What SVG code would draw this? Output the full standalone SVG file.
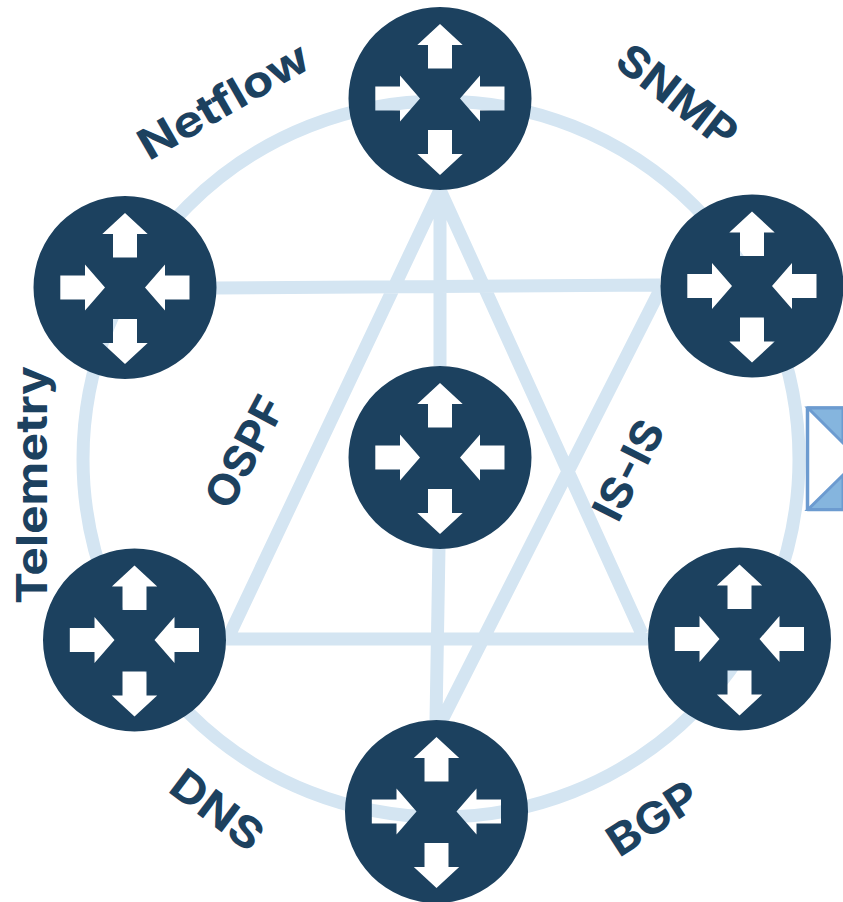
<svg xmlns="http://www.w3.org/2000/svg" width="843" height="902" viewBox="0 0 843 902">
<style>
.ln{fill:none;stroke:#d4e5f2;stroke-width:13}
.nd{fill:#1c415f;fill-rule:evenodd}
.lb{font-family:Inter,"Liberation Sans",sans-serif;font-weight:700;font-size:43px;fill:#1c415f;text-anchor:middle}
</style>
<defs>
<path id="router" d="M-91.5 0A91.5 91.5 0 1 0 91.5 0A91.5 91.5 0 1 0-91.5 0ZM0-74.500L22.700-53.500H12V-30H-12V-53.500H-22.700ZM0 76.500L22.700 55.500H12V31.500H-12V55.500H-22.700ZM-20 0L-40-23V-12H-64.700V12H-40V23ZM20 0L40-23V-12H64.500V12H40V23Z"/>
</defs>
<g id="connectors">
<circle class="ln" cx="441" cy="459" r="358"/>
<path class="ln" d="M216 288L660 285M226 639H648M440 190L440 366M439 548L436 720M440 190L228 638M440 190L642 634M662 286L441 722"/>
</g>
<g id="envelope">
<rect x="807.500" y="408" width="50" height="101.500" fill="#fff" stroke="#6c9bd0" stroke-width="3.500" stroke-linejoin="round"/>
<path d="M808 408H843V443ZM808 509.500H843V475Z" fill="#85b5de" stroke="#6c9bd0" stroke-width="3"/>
</g>
<g id="node-top"><use href="#router" class="nd" x="440" y="98.500"/></g>
<g id="node-top-right"><use href="#router" class="nd" x="752" y="286"/></g>
<g id="node-top-left"><use href="#router" class="nd" x="125" y="287.500"/></g>
<g id="node-center"><use href="#router" class="nd" x="440" y="457.500"/></g>
<g id="node-bottom-left"><use href="#router" class="nd" x="134.500" y="640"/></g>
<g id="node-bottom-right"><use href="#router" class="nd" x="739.500" y="639"/></g>
<g id="node-bottom"><use href="#router" class="nd" x="436.500" y="811.500"/></g>
<g id="labels">
<text class="lb" transform="translate(231 114) rotate(-30)" textLength="190" lengthAdjust="spacingAndGlyphs">Netflow</text>
<text class="lb" transform="translate(668 108) rotate(38)" textLength="140" lengthAdjust="spacingAndGlyphs">SNMP</text>
<text class="lb" transform="translate(47 485) rotate(-90)" textLength="238" lengthAdjust="spacingAndGlyphs">Telemetry</text>
<text class="lb" transform="translate(258 459) rotate(-62)" textLength="120" lengthAdjust="spacingAndGlyphs">OSPF</text>
<text class="lb" transform="translate(642 477) rotate(-63)" textLength="106" lengthAdjust="spacingAndGlyphs">IS-IS</text>
<text class="lb" transform="translate(208 822) rotate(37)" textLength="104" lengthAdjust="spacingAndGlyphs">DNS</text>
<text class="lb" transform="translate(661 831) rotate(-33)" textLength="100" lengthAdjust="spacingAndGlyphs">BGP</text>
</g>
</svg>
